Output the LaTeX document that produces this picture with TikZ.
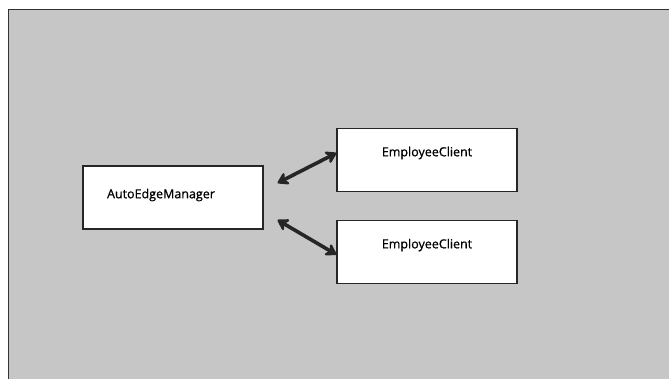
\documentclass[tikz,border=0pt]{standalone}
\usepackage{fontspec}
\setmainfont{Open Sans}
\newfontfamily\sketchfont[FakeBold=0.8]{Open Sans}
\usepackage{tikz}
\usetikzlibrary{arrows.meta,positioning,calc}

\begin{document}
\begin{tikzpicture}[
    x=1pt, y=-1pt,
    node distance=28pt and 74pt,
    box/.style={draw=black!85, line width=1.1pt, fill=white, minimum height=63pt, minimum width=180pt, inner sep=0pt},
    lbl/.style={font=\sketchfont\fontsize{12.5}{14}\selectfont, inner sep=0pt},
    arrow/.style={{Stealth[length=13pt,width=16pt,round]}-{Stealth[length=13pt,width=16pt,round]}, line width=3.6pt, draw=black!85}
]
\useasboundingbox (0,0) rectangle (669,379);
\fill[gray!45] (8,10) rectangle (669,379);
\draw[black!80, line width=1pt] (8,379) -- (8,10) -- (669,10);

\node[box] (manager) at (173,197.5) {};
\node[lbl] (managertext) at (161,195) {AutoEdgeManager};
\node[box] (client1) at (427,160) {};
\node[box, below=of client1] (client2) {};
\node[lbl] (client1text) at ($(client1.center)+(0,-7)$) {EmployeeClient};
\node[lbl] (client2text) at ($(client2.center)+(0,-7)$) {EmployeeClient};

\draw[arrow] ([xshift=14pt,yshift=14.5pt]manager.east) -- ([yshift=7pt]client1.west);
\draw[arrow] ([xshift=14pt,yshift=-22.5pt]manager.east) -- ([yshift=-2.5pt]client2.west);
\end{tikzpicture}
\end{document}
